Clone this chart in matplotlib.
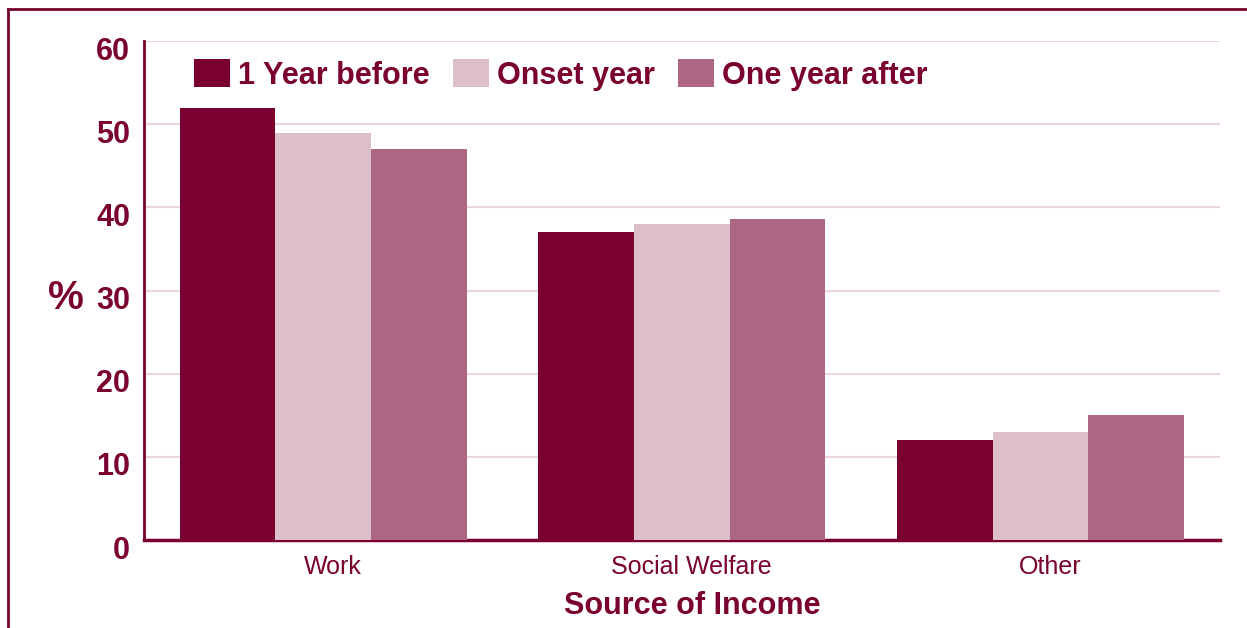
import matplotlib.pyplot as plt
import matplotlib.transforms as mtransforms
import numpy as np
from matplotlib.lines import Line2D

# income source shares (%) around onset
categories = ['Work', 'Social Welfare', 'Other']
series_names = ['1 Year before', 'Onset year', 'One year after']
year_before = [52.0, 37.0, 12.0]
onset_year = [49.0, 38.0, 13.0]
year_after = [47.0, 38.6, 15.0]

MAROON = '#7A0030'
colors = ['#7A0030', '#DDBFCA', '#AD6782']

plt.rcParams['font.family'] = ['Liberation Sans', 'DejaVu Sans']

fig = plt.figure(figsize=(12.47, 6.28), dpi=100)
ax = fig.add_axes([0.1155, 0.140, 0.8625, 0.7947])

x = np.arange(len(categories))
width = 0.8 / 3
for i, (vals, name) in enumerate(zip([year_before, onset_year, year_after], series_names)):
    ax.bar(x + (i - 1) * width, vals, width, color=colors[i], label=name, zorder=3)

ax.set_xlim(-0.5, 2.5)
ax.set_ylim(0, 60)
ax.set_yticks(range(0, 61, 10))
ax.yaxis.grid(True, color='#EBD6DD', linewidth=1.5, zorder=0)
ax.tick_params(axis='both', length=0)
ax.tick_params(axis='y', pad=10, labelsize=22, labelcolor=MAROON)
ax.tick_params(axis='x', pad=11, labelsize=18, labelcolor=MAROON)
ax.set_xticks(x)
ax.set_xticklabels(categories)

# y labels sit a little below their gridlines, category labels a bit right of centre
yshift = mtransforms.ScaledTranslation(0, -0.07, fig.dpi_scale_trans)
xshift = mtransforms.ScaledTranslation(0.10, 0, fig.dpi_scale_trans)
for lbl in ax.get_yticklabels():
    lbl.set_fontweight('bold')
    lbl.set_transform(lbl.get_transform() + yshift)
for lbl in ax.get_xticklabels():
    lbl.set_transform(lbl.get_transform() + xshift)

for side in ['top', 'right']:
    ax.spines[side].set_visible(False)
ax.spines['left'].set_color(MAROON)
ax.spines['left'].set_linewidth(2)
ax.spines['bottom'].set_color(MAROON)
ax.spines['bottom'].set_linewidth(2.5)

ax.set_xlabel('Source of Income', fontsize=22, fontweight='bold', color=MAROON)
ax.xaxis.set_label_coords(0.5 + 10 / 1076, -0.102)
fig.text(0.053, 0.525, '%', fontsize=29, fontweight='bold', color=MAROON, ha='center', va='center')

leg = ax.legend(loc='upper left', bbox_to_anchor=(194 / 1247, 1 - 59 / 628),
                bbox_transform=fig.transFigure, ncol=3, frameon=False,
                fontsize=22, handlelength=1.18, handleheight=1.05,
                handletextpad=0.27, columnspacing=0.75, borderpad=0, borderaxespad=0)
for t in leg.get_texts():
    t.set_color(MAROON)
    t.set_fontweight('bold')

# outer frame, left and top edges only
fig.add_artist(Line2D([8 / 1247, 8 / 1247], [0, 1 - 9 / 628], color=MAROON, linewidth=2,
                      transform=fig.transFigure))
fig.add_artist(Line2D([8 / 1247, 1], [1 - 9 / 628, 1 - 9 / 628], color=MAROON, linewidth=2,
                      transform=fig.transFigure))

fig.savefig('out.png', dpi=100)
